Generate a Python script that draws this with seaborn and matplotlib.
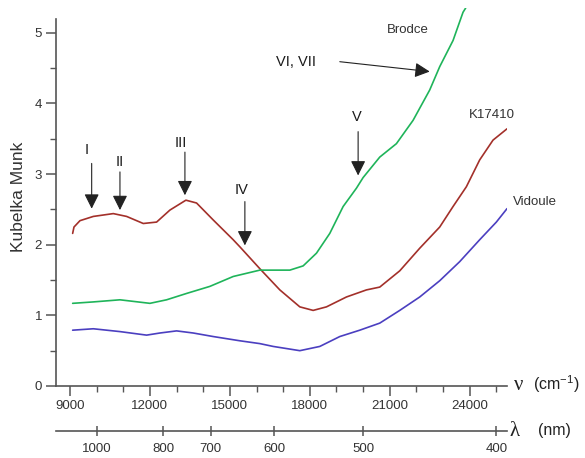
import numpy as np
import pandas as pd
import matplotlib
matplotlib.use("Agg")
import matplotlib.pyplot as plt
import seaborn as sns

# ---- data ----
red_x = [9100, 9150, 9375, 9875, 10625, 11125, 11750, 12250, 12750, 13350, 13750, 14375,
         15125, 15375, 16125, 16875, 17625, 18125, 18625, 19375, 20125, 20625, 21375,
         22125, 22875, 23375, 23875, 24375, 24875, 25400]
red_y = [2.16, 2.25, 2.34, 2.40, 2.44, 2.40, 2.30, 2.32, 2.49, 2.63, 2.59, 2.35,
         2.07, 1.97, 1.66, 1.36, 1.12, 1.07, 1.12, 1.26, 1.36, 1.40, 1.63,
         1.95, 2.25, 2.54, 2.82, 3.20, 3.48, 3.64]

green_x = [9100, 9875, 10875, 12000, 12625, 13375, 14250, 15125, 16125, 17250, 17750,
           18250, 18750, 19250, 19750, 20000, 20625, 21250, 21875, 22500, 22875, 23375,
           23750, 23850]
green_y = [1.17, 1.19, 1.22, 1.17, 1.22, 1.31, 1.41, 1.55, 1.64, 1.64, 1.70,
           1.88, 2.16, 2.54, 2.80, 2.95, 3.24, 3.43, 3.76, 4.19, 4.52, 4.89,
           5.29, 5.35]

blue_x = [9100, 9875, 10875, 11875, 12375, 13000, 13625, 14375, 15375, 16125, 16625,
          17625, 18375, 19125, 19875, 20625, 21375, 22125, 22875, 23625, 24375, 25000, 25400]
blue_y = [0.79, 0.81, 0.77, 0.72, 0.75, 0.78, 0.75, 0.70, 0.64, 0.60, 0.56,
          0.50, 0.56, 0.70, 0.79, 0.89, 1.07, 1.26, 1.49, 1.76, 2.07, 2.32, 2.51]

samples = ["K17410", "Brodce", "Vidoule"]
colors = {"K17410": "#a3302a", "Brodce": "#1fb45a", "Vidoule": "#4b3fc0"}

nu_ticks = [9000, 12000, 15000, 18000, 21000, 24000]
lambda_ticks = [1000, 800, 700, 600, 500, 400]
y_ticks = [0, 1, 2, 3, 4, 5]

band_labels = ["I", "II", "III", "IV", "V"]
band_pos = [9814, 10875, 13313, 15563, 19813]
band_tip = [2.51, 2.49, 2.70, 1.99, 2.98]

df = pd.concat([
    pd.DataFrame({"nu": red_x, "km": red_y, "sample": "K17410"}),
    pd.DataFrame({"nu": green_x, "km": green_y, "sample": "Brodce"}),
    pd.DataFrame({"nu": blue_x, "km": blue_y, "sample": "Vidoule"}),
], ignore_index=True)

sns.set_style("white")
plt.rcParams["font.family"] = ["Liberation Sans", "DejaVu Sans"]
plt.rcParams["mathtext.fontset"] = "custom"
plt.rcParams["mathtext.rm"] = "Liberation Sans"

W, H = 585, 458
fig = plt.figure(figsize=(W / 100, H / 100), dpi=100)
left, right = 56 / W, 507 / W
bottom = 1 - 386 / H
top = 1 - 8 / H
ax = fig.add_axes([left, bottom, right - left, top - bottom])

sns.lineplot(data=df, x="nu", y="km", hue="sample", palette=colors,
             estimator=None, sort=False, legend=False, linewidth=1.2, ax=ax)

xmin, xmax = 8475, 25400
ax.set_xlim(xmin, xmax)
ax.set_ylim(0, 5.35)
for s in ["top", "right"]:
    ax.spines[s].set_visible(False)
spc = "#555555"
for s in ["left", "bottom"]:
    ax.spines[s].set_color(spc)
    ax.spines[s].set_linewidth(1.2)
ax.spines["left"].set_bounds(0, 5.2)

ax.set_xticks(nu_ticks)
ax.set_xticklabels([str(t) for t in nu_ticks])
ax.set_xticks(np.arange(9000, 25001, 1000), minor=True)
ax.set_yticks(y_ticks)
ax.set_yticklabels([str(t) for t in y_ticks])
ax.set_yticks(np.arange(0.5, 5.0, 1.0), minor=True)
ax.tick_params(which="both", bottom=True, left=True, top=False, right=False)
ax.tick_params(which="major", direction="out", length=7, width=1.1, color=spc,
               labelsize=9.5, labelcolor="#333333", pad=3)
ax.tick_params(which="minor", direction="out", length=4, width=1.0, color=spc)
ax.set_xlabel("")
ax.set_ylabel("Kubelka Munk", fontsize=12.5, color="#333333", labelpad=6)

# band arrows
ap = dict(arrowstyle="-|>,head_length=0.6,head_width=0.3", color="#222222",
          lw=0.8, mutation_scale=15, shrinkA=0, shrinkB=0)
text_y = [3.34, 3.17, 3.44, 2.77, 3.81]
text_dx = [-190, -26, -160, -124, -60]
shaft_top = [3.15, 3.03, 3.31, 2.61, 3.60]
for lab, xp, tip, ty, dx, st in zip(band_labels, band_pos, band_tip, text_y, text_dx, shaft_top):
    ax.annotate("", xy=(xp, tip), xytext=(xp, st), arrowprops=ap)
    ax.text(xp + dx, ty, lab, ha="center", va="center", fontsize=10.5,
            color="#1a1a1a")
ax.annotate("", xy=(22500, 4.45), xytext=(19125, 4.59), arrowprops=ap)
ax.text(17475, 4.58, "VI, VII", ha="center", va="center", fontsize=10.5, color="#1a1a1a")

# series labels
ax.text(21686, 5.04, "Brodce", ha="center", va="center", fontsize=9.5, color="#333333")
ax.text(24851, 3.83, "K17410", ha="center", va="center", fontsize=9.5, color="#333333")
ax.text(26438, 2.61, "Vidoule", ha="center", va="center", fontsize=9.5, color="#333333",
        clip_on=False)

# wavelength axis
ax2 = fig.add_axes([left, 1 - 431 / H, right - left, 0.0001])
ax2.set_xlim(xmin, xmax)
for s in ["top", "right", "left"]:
    ax2.spines[s].set_visible(False)
ax2.spines["bottom"].set_color(spc)
ax2.spines["bottom"].set_linewidth(1.2)
ax2.set_yticks([])
ax2.set_xticks([1e7 / l for l in lambda_ticks])
ax2.set_xticklabels([str(l) for l in lambda_ticks])
ax2.tick_params(axis="x", bottom=True, direction="inout", length=7, width=1.1, color=spc,
                labelsize=9.5, labelcolor="#333333", pad=5)
ax2.set_facecolor("none")

# axis unit labels
fig.text(519 / W, 1 - 385 / H, "ν", fontsize=15, family="Liberation Serif",
         ha="center", va="center", color="#222222")
fig.text(533 / W, 1 - 384 / H, "(cm$^{\\mathregular{-1}}$)", fontsize=11.5,
         ha="left", va="center", color="#222222")
fig.text(515 / W, 1 - 431 / H, "λ", fontsize=15, family="Liberation Serif",
         ha="center", va="center", color="#222222")
fig.text(538 / W, 1 - 431 / H, "(nm)", fontsize=11.5,
         ha="left", va="center", color="#222222")

fig.savefig("out.png", dpi=100)
